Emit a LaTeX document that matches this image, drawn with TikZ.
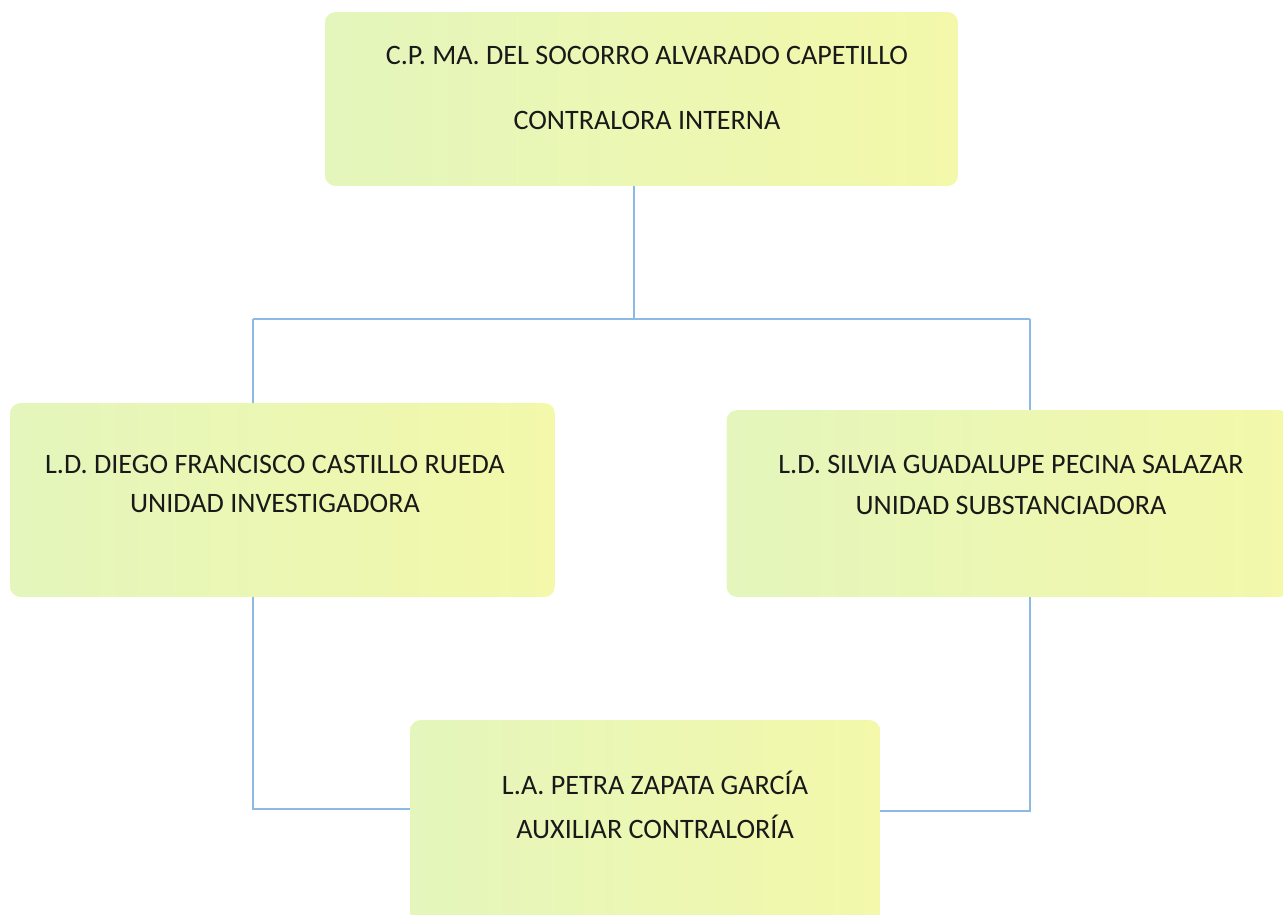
\documentclass[tikz,border=0pt]{standalone}
\usepackage{fontspec}
\setmainfont{Carlito}
\usepackage{tikz}
\usetikzlibrary{positioning, calc}
\definecolor{boxgreen}{RGB}{228,246,188}
\definecolor{boxyellow}{RGB}{243,248,170}
\definecolor{linkblue}{RGB}{140,186,228}
\tikzstyle{cargo} = [rectangle, rounded corners=6pt, left color=boxgreen, right color=boxyellow, inner sep=0pt]
\tikzstyle{nombre} = [align=center, font=\fontsize{16}{22}\selectfont, text=black!90]
\tikzstyle{enlace} = [draw=linkblue, line width=0.6pt]

\begin{document}
\begin{tikzpicture}[x=0.02cm, y=-0.02cm]
    \useasboundingbox (0,0) rectangle (1283,914);

    % --- contralora
    \node[cargo, minimum width=12.66cm, minimum height=3.48cm] (contra) at (641.5,99) {};
    \node[nombre] (contratxt) at (647,87.5) {C.P. MA. DEL SOCORRO ALVARADO CAPETILLO \\[15pt] CONTRALORA INTERNA};

    % --- unidades
    \node[cargo, minimum width=10.9cm, minimum height=3.88cm] (inv) at (282.5,500) {};
    \node[nombre] (invtxt) at (275,484) {L.D. DIEGO FRANCISCO CASTILLO RUEDA \\ UNIDAD INVESTIGADORA};
    \node[cargo, minimum width=11.26cm, minimum height=3.74cm] (sub) at (1008,503.5) {};
    \node[nombre] (subtxt) at (1011,485) {L.D. SILVIA GUADALUPE PECINA SALAZAR \\[1pt] UNIDAD SUBSTANCIADORA};

    % --- auxiliar
    \node[cargo, minimum width=9.4cm, minimum height=4.08cm] (aux) at (645,822) {};
    \node[nombre] (auxtxt) at (655,805) {L.A. PETRA ZAPATA GARCÍA \\[3pt] AUXILIAR CONTRALORÍA};

    % --- lineas
    \coordinate (bus) at (634,319);
    \coordinate (busl) at (253,319);
    \coordinate (busr) at (1030,319);
    \coordinate (auxl) at (253,809);
    \coordinate (auxr) at (1030,811);
    \draw[enlace] (bus |- contra.south) -- (bus);
    \draw[enlace] (busl) -- (busr);
    \draw[enlace] (busl) -- (busl |- inv.north);
    \draw[enlace] (busr) -- (busr |- sub.north);
    \draw[enlace] (auxl |- inv.south) -- (auxl) -- (auxl -| aux.west);
    \draw[enlace] (auxr |- sub.south) -- (auxr) -- (auxr -| aux.east);

\end{tikzpicture}
\end{document}
